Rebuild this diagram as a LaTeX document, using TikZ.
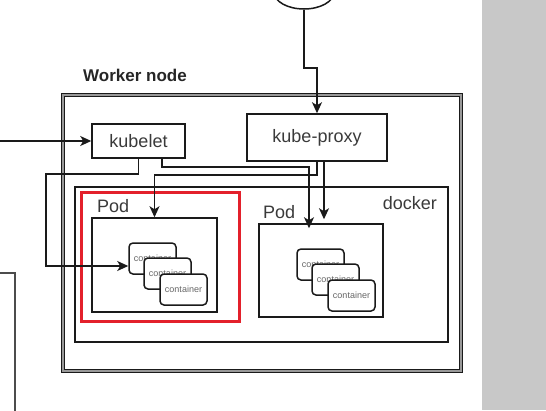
\documentclass[tikz,border=0pt]{standalone}
\usepackage{fontspec}
\setmainfont{Liberation Sans}
\usetikzlibrary{arrows.meta,calc,shapes.geometric}
\definecolor{panelgray}{HTML}{C8C8C8}
\definecolor{labelgray}{HTML}{3A3A3A}
\definecolor{podred}{HTML}{E3202B}
\definecolor{ctext}{HTML}{666666}
\definecolor{linec}{HTML}{1A1A1A}
\begin{document}
\begin{tikzpicture}[x=1pt,y=-1pt,
  box/.style={draw=linec,line width=1.5pt,fill=white,inner sep=0pt,rectangle},
  lbl/.style={text=labelgray,font=\fontsize{18}{20}\selectfont,inner sep=0pt},
  cbox/.style={draw=linec,line width=1.5pt,fill=white,rounded corners=4pt,
    minimum width=47pt,minimum height=31pt,inner sep=0pt,
    text=ctext,font=\fontsize{9}{10}\selectfont},
  arr/.style={draw=linec,line width=1.5pt,-{Stealth[length=11pt,width=10pt,inset=3pt]}},
  wire/.style={draw=linec,line width=1.5pt}
]
\useasboundingbox (0,0) rectangle (546,410);
% grey side panel
\fill[panelgray] (482,0) rectangle (546,410);

% top ellipse
\node[draw=linec,line width=1.5pt,ellipse,minimum width=60pt,minimum height=34pt,inner sep=0pt] (ell) at (304,-8) {};

% worker node frame
\node[draw=linec,line width=1.2pt,double=gray!80,double distance=2.2pt,rectangle,
  minimum width=398pt,minimum height=276pt,inner sep=0pt] (worker) at (262,233) {};
\node[font=\bfseries\fontsize{17}{19}\selectfont,text=black!85,anchor=west,inner sep=0pt] (wlabel) at (83,75) {Worker node};

% kubelet and kube-proxy
\node[box,lbl,minimum width=93pt,minimum height=34pt] (kubelet) at (138.5,141) {kubelet};
\node[box,lbl,minimum width=140pt,minimum height=47pt] (kp) at (317,137.5) {kube-proxy};

% docker
\node[box,minimum width=373pt,minimum height=155pt] (docker) at (261.5,264.5) {};
\node[lbl,anchor=east] (dlabel) at (437,203) {docker};

% red highlight
\node[draw=podred,line width=3pt,rectangle,minimum width=158pt,minimum height=129pt,inner sep=0pt] (red) at (160,256.5) {};

% pods
\node[lbl,anchor=west] (p1label) at (97,206) {Pod};
\node[box,minimum width=125pt,minimum height=94pt] (pod1) at (154.5,265) {};
\node[lbl,anchor=west] (p2label) at (263,212) {Pod};
\node[box,minimum width=124pt,minimum height=93pt] (pod2) at (321,270.5) {};

% containers
\node[cbox] (c11) at (152.5,258.5) {container};
\node[cbox] (c12) at (167.5,273.5) {container};
\node[cbox] (c13) at (183.5,289.5) {container};
\node[cbox] (c21) at (320.5,264.5) {container};
\node[cbox] (c22) at (335.5,279.5) {container};
\node[cbox] (c23) at (351.5,295.5) {container};

% partial box at left
\draw[draw=black!70,line width=1.5pt] (0,273) -- (15,273) -- (15,412);

% connectors
\coordinate (lin) at (0,141);
\draw[arr] (lin) -- (kubelet.west);
\draw[arr] (ell.south) -- ++(0,58) -| (kp.north);
\coordinate (k1) at (46,174);
\draw[arr] (kubelet.south) |- (k1) |- ($(c11.west)+(0,7.5)$);
\coordinate (k2) at (309,167);
\draw[arr] ($(kubelet.south)+(23.5,0)$) |- (k2) -- ($(pod2.north)+(-12,5)$);
\coordinate (p3) at (154.5,175);
\draw[arr] (kp.south) |- (p3) -- (pod1.north);
\draw[arr] ($(kp.south)+(7,0)$) -- ($(pod2.north)+(3,-4)$);
\end{tikzpicture}
\end{document}
